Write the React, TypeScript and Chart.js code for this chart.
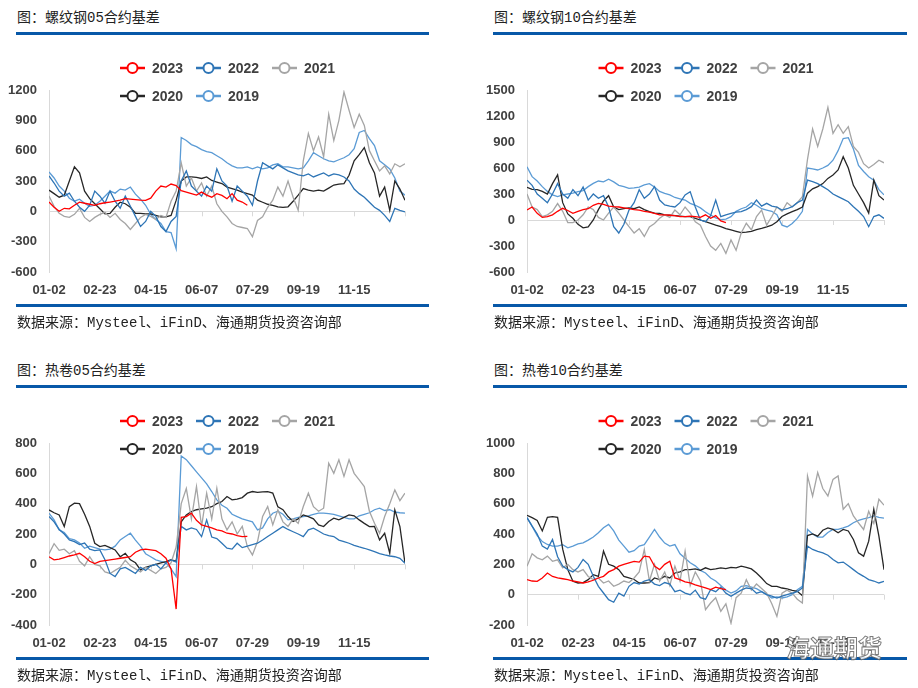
import React, { useEffect, useRef } from 'react';
import { Chart, registerables } from 'chart.js';

Chart.register(...registerables);

// x axis: one point about every 3.5 trading days, a labelled tick every 10 points
const xTickLabels = ['01-02', '02-23', '04-15', '06-07', '07-29', '09-19', '11-15', ''];
const TICK_STEP = 10;
const LAST_INDEX = 70;

const years = ['2023', '2022', '2021', '2020', '2019'];
const yearColors = ['#ff0000', '#2e75b6', '#a5a5a5', '#262626', '#5b9bd5'];

// 螺纹钢05合约基差
const rb05_2023 = [92, 40, 0, 30, 25, 60, 90, 80, 70, 60, 75, 85, 92, 100, 110, 125, 120, 115, 110, 108, 130, 200, 250, 240, 270, 255, 205, 190, 175, 160, 190, 160, 140, 175, 158, 125, 175, 110, 92, 60];
const rb05_2022 = [350, 280, 200, 150, 180, 100, 40, 0, 60, 200, 150, 80, 200, 100, 30, 150, 50, -50, -150, -100, 0, -50, -150, -200, -100, -50, 300, 400, 250, 200, 150, 250, 200, 420, 300, 250, 100, 250, 200, 150, 60, 300, 480, 450, 420, 460, 430, 400, 380, 360, 350, 370, 340, 360, 380, 350, 370, 360, 340, 300, 220, 175, 140, 90, 40, 10, -40, -100, 30, 10, -5];
const rb05_2021 = [150, 50, -20, -50, -60, -30, 30, -60, -100, -60, -30, -10, -60, -20, -80, -120, -180, -120, -60, -30, -50, -80, -40, -60, 100, 200, 480, 250, 330, 200, 280, 150, 250, 75, 0, -55, -120, -150, -160, -170, -250, -90, -55, 40, 110, 240, 150, 300, 140, 10, 500, 770, 600, 735, 540, 960, 700, 900, 1180, 1000, 830, 960, 850, 600, 500, 400, 450, 370, 470, 440, 470];
const rb05_2020 = [210, 175, 140, 160, 300, 440, 380, 200, 125, 75, 25, -25, -20, 40, 90, 75, 40, -20, -20, -25, -25, -40, -55, -55, -40, 108, 300, 340, 340, 335, 325, 340, 305, 290, 275, 240, 225, 210, 190, 175, 160, 110, 90, 70, 60, 45, 40, 45, 100, 160, 225, 210, 200, 210, 200, 230, 260, 270, 275, 356, 500, 560, 630, 480, 380, 150, 240, 10, 300, 220, 110];
const rb05_2019 = [390, 330, 250, 200, 130, 100, 120, 80, 50, 60, 100, 150, 200, 180, 220, 210, 240, 170, 120, 60, -30, -80, -120, -200, -210, -370, 730, 700, 660, 640, 610, 590, 580, 550, 520, 480, 450, 430, 430, 440, 420, 440, 420, 430, 460, 470, 440, 440, 430, 420, 430, 500, 580, 550, 520, 500, 490, 510, 530, 560, 620, 780, 800, 720, 650, 500, 460, 420, 330, 200, 160];

// 螺纹钢10合约基差
const rb10_2023 = [115, 150, 77, 30, 38, 60, 100, 135, 110, 77, 100, 120, 130, 170, 192, 180, 160, 154, 150, 140, 130, 120, 115, 100, 90, 77, 60, 58, 55, 50, 40, 38, 45, 40, 30, 60, 20, 50, -10, -30];
const rb10_2022 = [460, 400, 300, 250, 200, 300, 420, 300, 250, 350, 280, 380, 230, 300, 250, 280, 150, -77, -150, -50, 115, 200, 350, 250, 300, 385, 230, 173, 160, 150, 200, 290, 327, 150, 0, -20, 50, 230, 38, 60, 77, 90, 96, 120, 154, 230, 160, 192, 160, 150, 115, 130, 154, 200, 230, 460, 442, 420, 385, 350, 300, 270, 240, 211, 154, 100, 40, -77, 40, 60, 19];
const rb10_2021 = [300, 150, 120, 40, 60, 100, 190, 100, -30, -30, 0, 60, 150, 120, 30, 0, 80, 150, 80, 0, -77, -150, -100, -190, -80, -40, 20, 60, 30, 115, 60, 150, 80, -20, -60, -190, -300, -350, -270, -385, -230, -350, -150, -38, -115, 40, 115, -60, 40, 150, 100, 200, 150, 200, 270, 700, 1050, 850, 1050, 1300, 1000, 1100, 1000, 1077, 850, 780, 650, 600, 640, 690, 660];
const rb10_2020 = [377, 354, 350, 330, 300, 420, 520, 200, 70, 20, -50, -90, -80, 0, 120, 220, 280, 150, 120, 130, 140, 130, 150, 120, 96, 80, 77, 60, 55, 50, 45, 40, 38, 20, 0, -20, -38, -60, -77, -100, -115, -130, -146, -140, -130, -110, -96, -80, -60, -20, 40, 70, 96, 120, 150, 310, 360, 385, 420, 480, 520, 577, 730, 600, 400, 300, 200, 80, 460, 280, 230];
const rb10_2019 = [615, 500, 450, 385, 330, 290, 270, 290, 300, 310, 327, 340, 385, 423, 450, 440, 470, 440, 400, 385, 365, 370, 380, 404, 420, 380, 330, 308, 290, 260, 245, 230, 192, 170, 140, 96, 58, 25, 5, 10, 38, 100, 130, 150, 200, 170, 130, 115, 100, 60, -60, -80, -40, 19, 100, 600, 590, 577, 600, 630, 690, 800, 940, 950, 820, 630, 560, 500, 460, 350, 290];

// 热卷05合约基差
const hc05_2023 = [50, 30, 35, 45, 55, 62, 73, 50, 20, 5, 20, 25, 30, 35, 40, 45, 50, 80, 95, 100, 95, 90, 70, 40, -30, -295, 310, 315, 337, 290, 260, 250, 240, 227, 220, 205, 200, 190, 183, 185];
const hc05_2022 = [315, 280, 230, 200, 161, 150, 130, 140, 100, 90, 95, 30, -60, -81, -30, -20, -40, -60, -20, -40, -10, 0, -30, 10, 29, 15, 250, 227, 240, 230, 183, 293, 180, 170, 139, 106, 100, 139, 110, 120, 130, 139, 160, 183, 205, 227, 249, 230, 215, 200, 183, 227, 238, 220, 200, 190, 183, 160, 150, 139, 125, 115, 106, 95, 84, 70, 62, 55, 50, 40, 7];
const hc05_2021 = [70, 136, 92, 100, 70, 90, 20, -10, 50, 0, -10, -50, -60, -40, -20, 26, -10, -30, -50, -20, -40, -60, -30, -20, 10, 114, 400, 500, 300, 513, 250, 469, 300, 502, 300, 227, 280, 200, 250, 117, 62, 150, 315, 381, 260, 359, 280, 250, 300, 270, 381, 469, 380, 350, 370, 667, 600, 689, 580, 689, 600, 557, 513, 350, 271, 205, 315, 400, 491, 420, 469];
const hc05_2020 = [359, 340, 326, 250, 380, 403, 400, 330, 250, 139, 117, 125, 110, 95, 50, 73, 30, 10, -37, -20, -10, 0, 10, 18, 30, 20, 280, 326, 348, 360, 365, 370, 380, 400, 414, 447, 425, 430, 440, 469, 480, 475, 478, 480, 470, 380, 360, 315, 282, 300, 326, 315, 300, 260, 249, 282, 304, 293, 310, 326, 320, 293, 270, 249, 250, 161, 205, 73, 359, 249, 7];
const hc05_2019 = [337, 293, 227, 210, 170, 161, 140, 106, 120, 110, 100, 95, 100, 120, 161, 183, 205, 160, 120, 70, 50, 30, 20, 10, -30, -81, 715, 690, 650, 610, 570, 530, 480, 425, 390, 370, 330, 315, 300, 290, 280, 227, 240, 300, 337, 350, 330, 293, 300, 310, 315, 320, 330, 337, 337, 335, 330, 320, 310, 300, 300, 320, 330, 340, 360, 370, 355, 360, 345, 340, 337];

// 热卷10合约基差
const hc10_2023 = [99, 90, 88, 110, 143, 120, 110, 105, 99, 90, 85, 77, 85, 95, 110, 121, 150, 165, 188, 200, 210, 220, 215, 254, 250, 188, 165, 200, 221, 110, 99, 85, 77, 65, 55, 45, 33, 50, 40, 33];
const hc10_2022 = [508, 452, 400, 320, 300, 364, 250, 188, 165, 150, 180, 232, 200, 121, 55, 11, -33, -50, 10, -10, 55, 80, 70, 90, 99, 70, 60, 80, 70, 20, 30, 10, 0, 30, -20, -30, 33, 20, 50, 10, -11, 10, 30, 44, 40, 10, 20, 0, -10, -22, -10, 0, 10, 20, 44, 320, 298, 285, 276, 260, 232, 210, 215, 190, 165, 140, 121, 99, 90, 77, 88];
const hc10_2021 = [188, 270, 243, 230, 254, 220, 230, 177, 200, 165, 150, 165, 120, 99, 110, 77, 90, 55, 70, 90, 80, 110, 150, 298, 90, 200, 90, 150, 60, 188, 90, 287, 60, 150, 90, -99, -55, -20, -110, -60, -188, -20, 10, 99, 30, 70, 40, 10, -60, -143, 10, 30, 10, -30, -55, 783, 650, 805, 700, 651, 760, 783, 563, 600, 519, 474, 430, 550, 470, 629, 590];
const hc10_2020 = [523, 508, 490, 420, 510, 514, 510, 300, 165, 88, 77, 80, 99, 132, 120, 287, 200, 188, 165, 120, 110, 100, 77, 77, 80, 110, 99, 121, 110, 143, 150, 165, 165, 170, 160, 177, 165, 170, 177, 172, 180, 177, 188, 180, 170, 143, 110, 73, 55, 55, 44, 38, 29, 22, -7, 390, 400, 386, 425, 440, 430, 408, 430, 420, 364, 276, 254, 353, 563, 386, 165];
const hc10_2019 = [508, 452, 390, 350, 331, 320, 320, 330, 309, 320, 335, 342, 360, 380, 408, 441, 463, 420, 360, 320, 280, 290, 320, 330, 380, 430, 380, 340, 320, 330, 270, 240, 210, 190, 160, 143, 110, 90, 60, 30, 11, 25, 55, 60, 50, 40, 20, 0, -22, -15, -22, -15, 0, 33, 55, 430, 400, 380, 380, 410, 430, 430, 440, 452, 474, 490, 500, 508, 519, 510, 505];

const SOURCE_TEXT = '数据来源：Mysteel、iFinD、海通期货投资咨询部';
const BRAND_BLUE = '#0758a8';
const AXIS_GREY = '#d9d9d9';
const TEXT_DARK = '#404040';

type PanelDef = {
  title: string;
  left: number;
  top: number;
  frameWidth: number;
  canvasLeft: number;
  canvasWidth: number;
  yAxisWidth: number;
  padRight: number;
  yMin: number;
  yMax: number;
  yStep: number;
  series: number[][];
};

const panels: PanelDef[] = [
  { title: '图：螺纹钢05合约基差', left: 16, top: 0, frameWidth: 413, canvasLeft: 0, canvasWidth: 440, yAxisWidth: 49, padRight: 35, yMin: -600, yMax: 1200, yStep: 300, series: [rb05_2023, rb05_2022, rb05_2021, rb05_2020, rb05_2019] },
  { title: '图：螺纹钢10合约基差', left: 493, top: 0, frameWidth: 414, canvasLeft: 470, canvasWidth: 448, yAxisWidth: 57, padRight: 34, yMin: -600, yMax: 1500, yStep: 300, series: [rb10_2023, rb10_2022, rb10_2021, rb10_2020, rb10_2019] },
  { title: '图：热卷05合约基差', left: 16, top: 353, frameWidth: 413, canvasLeft: 0, canvasWidth: 440, yAxisWidth: 49, padRight: 35, yMin: -400, yMax: 800, yStep: 200, series: [hc05_2023, hc05_2022, hc05_2021, hc05_2020, hc05_2019] },
  { title: '图：热卷10合约基差', left: 493, top: 353, frameWidth: 414, canvasLeft: 470, canvasWidth: 448, yAxisWidth: 57, padRight: 34, yMin: -200, yMax: 1000, yStep: 200, series: [hc10_2023, hc10_2022, hc10_2021, hc10_2020, hc10_2019] },
];

const CANVAS_HEIGHT = 265;
const tickFont = { family: "'Liberation Sans', Arial, sans-serif", size: 13, weight: 'bold' as const };

// small tick marks where the category ticks meet the zero line
const zeroTickPlugin = {
  id: 'zeroTicks',
  beforeDatasetsDraw(chart: any) {
    const { ctx, scales } = chart;
    const y0 = scales.y.getPixelForValue(0);
    ctx.save();
    ctx.strokeStyle = AXIS_GREY;
    ctx.lineWidth = 1;
    scales.x.ticks.forEach((t: any) => {
      const px = Math.round(scales.x.getPixelForValue(t.value)) + 0.5;
      ctx.beginPath();
      ctx.moveTo(px, y0);
      ctx.lineTo(px, y0 + 5);
      ctx.stroke();
    });
    ctx.restore();
  },
};

// two-row legend: line with an open circle marker, then the year
const yearLegendPlugin = {
  id: 'yearLegend',
  afterDraw(chart: any) {
    const { ctx, chartArea } = chart;
    const cx = (chartArea.left + chartArea.right) / 2;
    const x0 = cx - 107;
    ctx.save();
    chart.data.datasets.forEach((ds: any, i: number) => {
      const col = i % 3;
      const row = Math.floor(i / 3);
      const x = x0 + col * 76;
      const y = chartArea.top - 22 + row * 28;
      ctx.strokeStyle = ds.borderColor;
      ctx.lineWidth = 2.5;
      ctx.beginPath();
      ctx.moveTo(x, y);
      ctx.lineTo(x + 25, y);
      ctx.stroke();
      ctx.beginPath();
      ctx.arc(x + 12.5, y, 5, 0, Math.PI * 2);
      ctx.fillStyle = '#ffffff';
      ctx.fill();
      ctx.lineWidth = 2;
      ctx.stroke();
      ctx.fillStyle = TEXT_DARK;
      ctx.font = "bold 14px 'Liberation Sans', Arial, sans-serif";
      ctx.textBaseline = 'middle';
      ctx.textAlign = 'left';
      ctx.fillText(ds.label, x + 32, y + 1);
    });
    ctx.restore();
  },
};

function BasisChart({ panel }: { panel: PanelDef }) {
  const ref = useRef<HTMLCanvasElement>(null);

  useEffect(() => {
    if (!ref.current) return;
    const chart = new Chart(ref.current, {
      type: 'line',
      data: {
        datasets: panel.series.map((vals, i) => ({
          label: years[i],
          data: vals.map((y, x) => ({ x, y })),
          borderColor: yearColors[i],
          backgroundColor: yearColors[i],
          borderWidth: 1.3,
          pointRadius: 0,
          fill: false,
          tension: 0,
        })),
      },
      options: {
        responsive: false,
        animation: false,
        devicePixelRatio: 1,
        layout: { padding: { left: 0, right: panel.padRight, top: 50, bottom: 0 } },
        plugins: { legend: { display: false }, tooltip: { enabled: false } },
        scales: {
          x: {
            type: 'linear',
            min: 0,
            max: LAST_INDEX,
            grid: { display: false, drawTicks: false },
            border: { display: false },
            ticks: {
              stepSize: TICK_STEP,
              autoSkip: false,
              maxRotation: 0,
              padding: 11,
              color: TEXT_DARK,
              font: tickFont,
              callback: (v: any) => xTickLabels[Math.round(Number(v) / TICK_STEP)] ?? '',
            },
            afterFit: (s: any) => {
              s.height = 33;
            },
          },
          y: {
            min: panel.yMin,
            max: panel.yMax,
            grid: {
              drawTicks: false,
              lineWidth: 1,
              color: (c: any) => (c.tick && c.tick.value === 0 ? AXIS_GREY : 'rgba(0,0,0,0)'),
            },
            border: { display: true, color: AXIS_GREY, width: 1 },
            ticks: {
              stepSize: panel.yStep,
              padding: 12,
              color: TEXT_DARK,
              font: tickFont,
              callback: (v: any) => String(v),
            },
            afterFit: (s: any) => {
              s.width = panel.yAxisWidth;
            },
          },
        },
      },
      plugins: [zeroTickPlugin, yearLegendPlugin],
    });
    return () => chart.destroy();
  }, [panel]);

  return (
    <canvas
      ref={ref}
      width={panel.canvasWidth}
      height={CANVAS_HEIGHT}
      style={{
        position: 'absolute',
        left: panel.canvasLeft,
        top: panel.top + 40,
        width: panel.canvasWidth,
        height: CANVAS_HEIGHT,
      }}
    />
  );
}

const captionFont = "'Liberation Mono', 'Noto Sans CJK SC', monospace";

function PanelFrame({ panel }: { panel: PanelDef }) {
  return (
    <>
      <div
        style={{
          position: 'absolute',
          left: panel.left + 1,
          top: panel.top + 8,
          height: 20,
          lineHeight: '20px',
          fontFamily: captionFont,
          fontSize: 14,
          color: '#222',
          whiteSpace: 'nowrap',
        }}
      >
        {panel.title}
      </div>
      <div style={{ position: 'absolute', left: panel.left, top: panel.top + 32, width: panel.frameWidth, height: 3, background: BRAND_BLUE }} />
      <BasisChart panel={panel} />
      <div style={{ position: 'absolute', left: panel.left, top: panel.top + 304, width: panel.frameWidth, height: 3, background: BRAND_BLUE }} />
      <div
        style={{
          position: 'absolute',
          left: panel.left + 1,
          top: panel.top + 313,
          height: 20,
          lineHeight: '20px',
          fontFamily: captionFont,
          fontSize: 14,
          color: '#222',
          whiteSpace: 'nowrap',
        }}
      >
        {SOURCE_TEXT}
      </div>
    </>
  );
}

export default function App() {
  return (
    <div
      style={{
        position: 'absolute',
        left: 0,
        top: 0,
        width: 918,
        height: 688,
        background: '#ffffff',
        overflow: 'hidden',
      }}
    >
      {panels.map((p) => (
        <PanelFrame key={p.title} panel={p} />
      ))}
      <div
        style={{
          position: 'absolute',
          left: 786,
          top: 632,
          fontFamily: "'Noto Sans CJK SC', sans-serif",
          fontSize: 24,
          fontWeight: 700,
          color: 'rgba(255,255,255,0.85)',
          WebkitTextStroke: '1px rgba(90,90,90,0.8)',
          lineHeight: '30px',
          whiteSpace: 'nowrap',
        }}
      >
        海通期货
      </div>
    </div>
  );
}
